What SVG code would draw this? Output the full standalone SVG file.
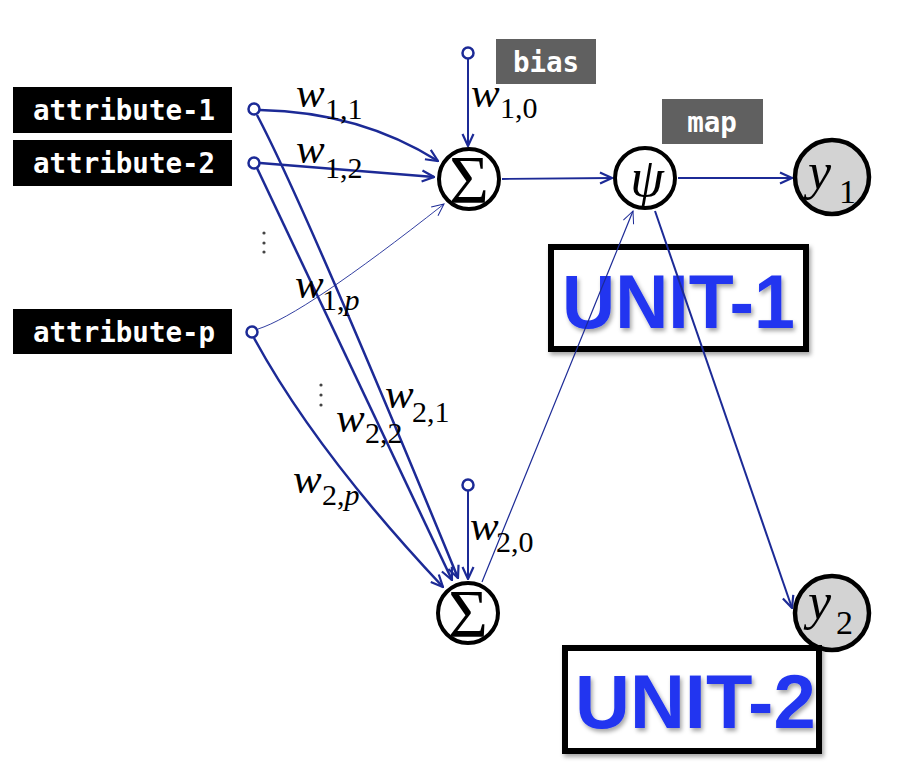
<svg xmlns="http://www.w3.org/2000/svg" width="907" height="777" viewBox="0 0 907 777">
<style>
.attr{fill:#000}
.attrt{font-family:"DejaVu Sans Mono","Liberation Mono",monospace;font-weight:bold;font-size:27.5px;fill:#fff}
.tag{fill:#606060}
.in{fill:#fff;stroke:#1c2a96;stroke-width:2.5}
.c{fill:none;stroke:#1c2a96}
.w{font-family:"Liberation Serif","Times New Roman",serif;font-style:italic;font-size:43px;fill:#000}
.s{font-family:"Liberation Serif","Times New Roman",serif;font-style:normal;font-size:30px;fill:#000}
.si{font-style:italic}
.node{fill:#fff;stroke:#000;stroke-width:4}
.out{fill:#d3d3d3;stroke:#000;stroke-width:4.5}
.sym{font-family:"Liberation Serif","Times New Roman",serif;font-size:68px;fill:#000;text-anchor:middle}
.psi{font-family:"Liberation Serif","Times New Roman",serif;font-style:italic;font-size:54px;fill:#000;text-anchor:middle}
.yv{font-family:"Liberation Serif","Times New Roman",serif;font-style:italic;font-size:52px;fill:#000}
.ys{font-family:"Liberation Serif","Times New Roman",serif;font-style:normal;font-size:34px;fill:#000}
.unit{fill:#fff;stroke:#000;stroke-width:6}
.ut{font-family:"Liberation Sans",Arial,sans-serif;font-weight:bold;font-size:76px;fill:#2035f0}
.dot{fill:#444}
</style>
<defs>
<marker id="ah" viewBox="0 0 14 14" refX="13" refY="7" markerWidth="14" markerHeight="14" markerUnits="userSpaceOnUse" orient="auto">
<path d="M1,1.5 L13,7 L1,12.5" fill="none" stroke="#1c2a96" stroke-width="2.2"/>
</marker>
<marker id="aht" viewBox="0 0 14 14" refX="13" refY="7" markerWidth="14" markerHeight="14" markerUnits="userSpaceOnUse" orient="auto">
<path d="M1,1.5 L13,7 L1,12.5" fill="none" stroke="#1c2a96" stroke-width="1"/>
</marker>
<filter id="sh" x="-10%" y="-10%" width="130%" height="140%">
<feDropShadow dx="2" dy="3" stdDeviation="2" flood-color="#000" flood-opacity="0.35"/>
</filter>
</defs>

<g id="unit1">
<rect class="unit" x="551" y="247" width="255" height="102" filter="url(#sh)"/>
<text class="ut" x="562" y="328" textLength="233" lengthAdjust="spacingAndGlyphs" filter="url(#sh)">UNIT-1</text>
</g>

<g id="connectors">
<path class="c" stroke-width="2.5" marker-end="url(#ah)" d="M260 110 Q360 112 438 161"/>
<path class="c" stroke-width="2.5" marker-end="url(#ah)" d="M260 163 L434 177"/>
<path class="c" stroke-width="0.9" marker-end="url(#aht)" d="M258 329 Q303 315 444 204"/>
<path class="c" stroke-width="2" marker-end="url(#ah)" d="M468 59 L468 146"/>
<path class="c" stroke-width="2.5" marker-end="url(#ah)" d="M257 115 Q306 208 458 578"/>
<path class="c" stroke-width="2.5" marker-end="url(#ah)" d="M257 168 L452 580"/>
<path class="c" stroke-width="2.5" marker-end="url(#ah)" d="M254 338 Q316 452 443 587"/>
<path class="c" stroke-width="2" marker-end="url(#ah)" d="M468 491 L468 579"/>
<path class="c" stroke-width="1.8" marker-end="url(#ah)" d="M502 179 L612 178"/>
<path class="c" stroke-width="1.8" marker-end="url(#ah)" d="M678 178 L792 178"/>
<path class="c" stroke-width="1.2" marker-end="url(#aht)" d="M482 582 L633 211"/>
<path class="c" stroke-width="2" marker-end="url(#ah)" d="M655 211 L792 608"/>
</g>

<g id="attribute-1">
<rect class="attr" x="13" y="87" width="219" height="46"/>
<text class="attrt" x="33" y="120">attribute-1</text>
<circle class="in" cx="254" cy="109" r="5.5"/>
</g>
<g id="attribute-2">
<rect class="attr" x="13" y="140" width="219" height="46"/>
<text class="attrt" x="33" y="173">attribute-2</text>
<circle class="in" cx="254" cy="163" r="5.5"/>
</g>
<g id="attribute-p">
<rect class="attr" x="13" y="309" width="219" height="45"/>
<text class="attrt" x="33" y="342">attribute-p</text>
<circle class="in" cx="252" cy="332" r="5.5"/>
</g>
<g id="dots">
<circle class="dot" cx="264" cy="233" r="1.6"/>
<circle class="dot" cx="264" cy="243" r="1.6"/>
<circle class="dot" cx="264" cy="252" r="1.6"/>
<circle class="dot" cx="321" cy="385" r="1.6"/>
<circle class="dot" cx="321" cy="395" r="1.6"/>
<circle class="dot" cx="321" cy="405" r="1.6"/>
</g>

<g id="bias">
<rect class="tag" x="496" y="39" width="100" height="45"/>
<text class="attrt" x="546" y="72" text-anchor="middle">bias</text>
<circle class="in" cx="468" cy="53" r="5.5"/>
<circle class="in" cx="468" cy="485" r="5.5"/>
</g>

<g id="weights">
<text class="w" x="296" y="107">w<tspan class="s" x="325" y="119">1,1</tspan></text>
<text class="w" x="296" y="163">w<tspan class="s" x="325" y="178">1,2</tspan></text>
<text class="w" x="471" y="107">w<tspan class="s" x="500" y="118">1,0</tspan></text>
<text class="w" x="295" y="298">w<tspan class="s" x="322" y="310">1,</tspan><tspan class="s si">p</tspan></text>
<text class="w" x="385" y="408">w<tspan class="s" x="412" y="422">2,1</tspan></text>
<text class="w" x="336" y="432">w<tspan class="s" x="365" y="443">2,2</tspan></text>
<text class="w" x="293" y="493">w<tspan class="s" x="322" y="505">2,</tspan><tspan class="s si">p</tspan></text>
<text class="w" x="470" y="540">w<tspan class="s" x="496" y="552">2,0</tspan></text>
</g>

<g id="sum1">
<circle class="node" cx="469" cy="179" r="30"/>
<text class="sym" x="469" y="202">Σ</text>
</g>
<g id="sum2">
<circle class="node" cx="468" cy="613" r="30"/>
<text class="sym" x="468" y="636">Σ</text>
</g>
<g id="psi">
<circle class="node" cx="645" cy="178" r="30"/>
<text class="psi" x="647" y="196">ψ</text>
</g>
<g id="map">
<rect class="tag" x="662" y="99" width="101" height="45"/>
<text class="attrt" x="712" y="132" text-anchor="middle">map</text>
</g>
<g id="y1">
<circle class="out" cx="832" cy="177" r="37"/>
<text class="yv" x="808" y="189">y<tspan class="ys" x="839" y="203">1</tspan></text>
</g>
<g id="y2">
<circle class="out" cx="832" cy="613" r="37"/>
<text class="yv" x="808" y="619">y<tspan class="ys" x="836" y="634">2</tspan></text>
</g>

<g id="unit2">
<rect class="unit" x="565" y="648" width="254" height="103" filter="url(#sh)"/>
<text class="ut" x="575" y="728" filter="url(#sh)">UNIT-2</text>
</g>
</svg>
